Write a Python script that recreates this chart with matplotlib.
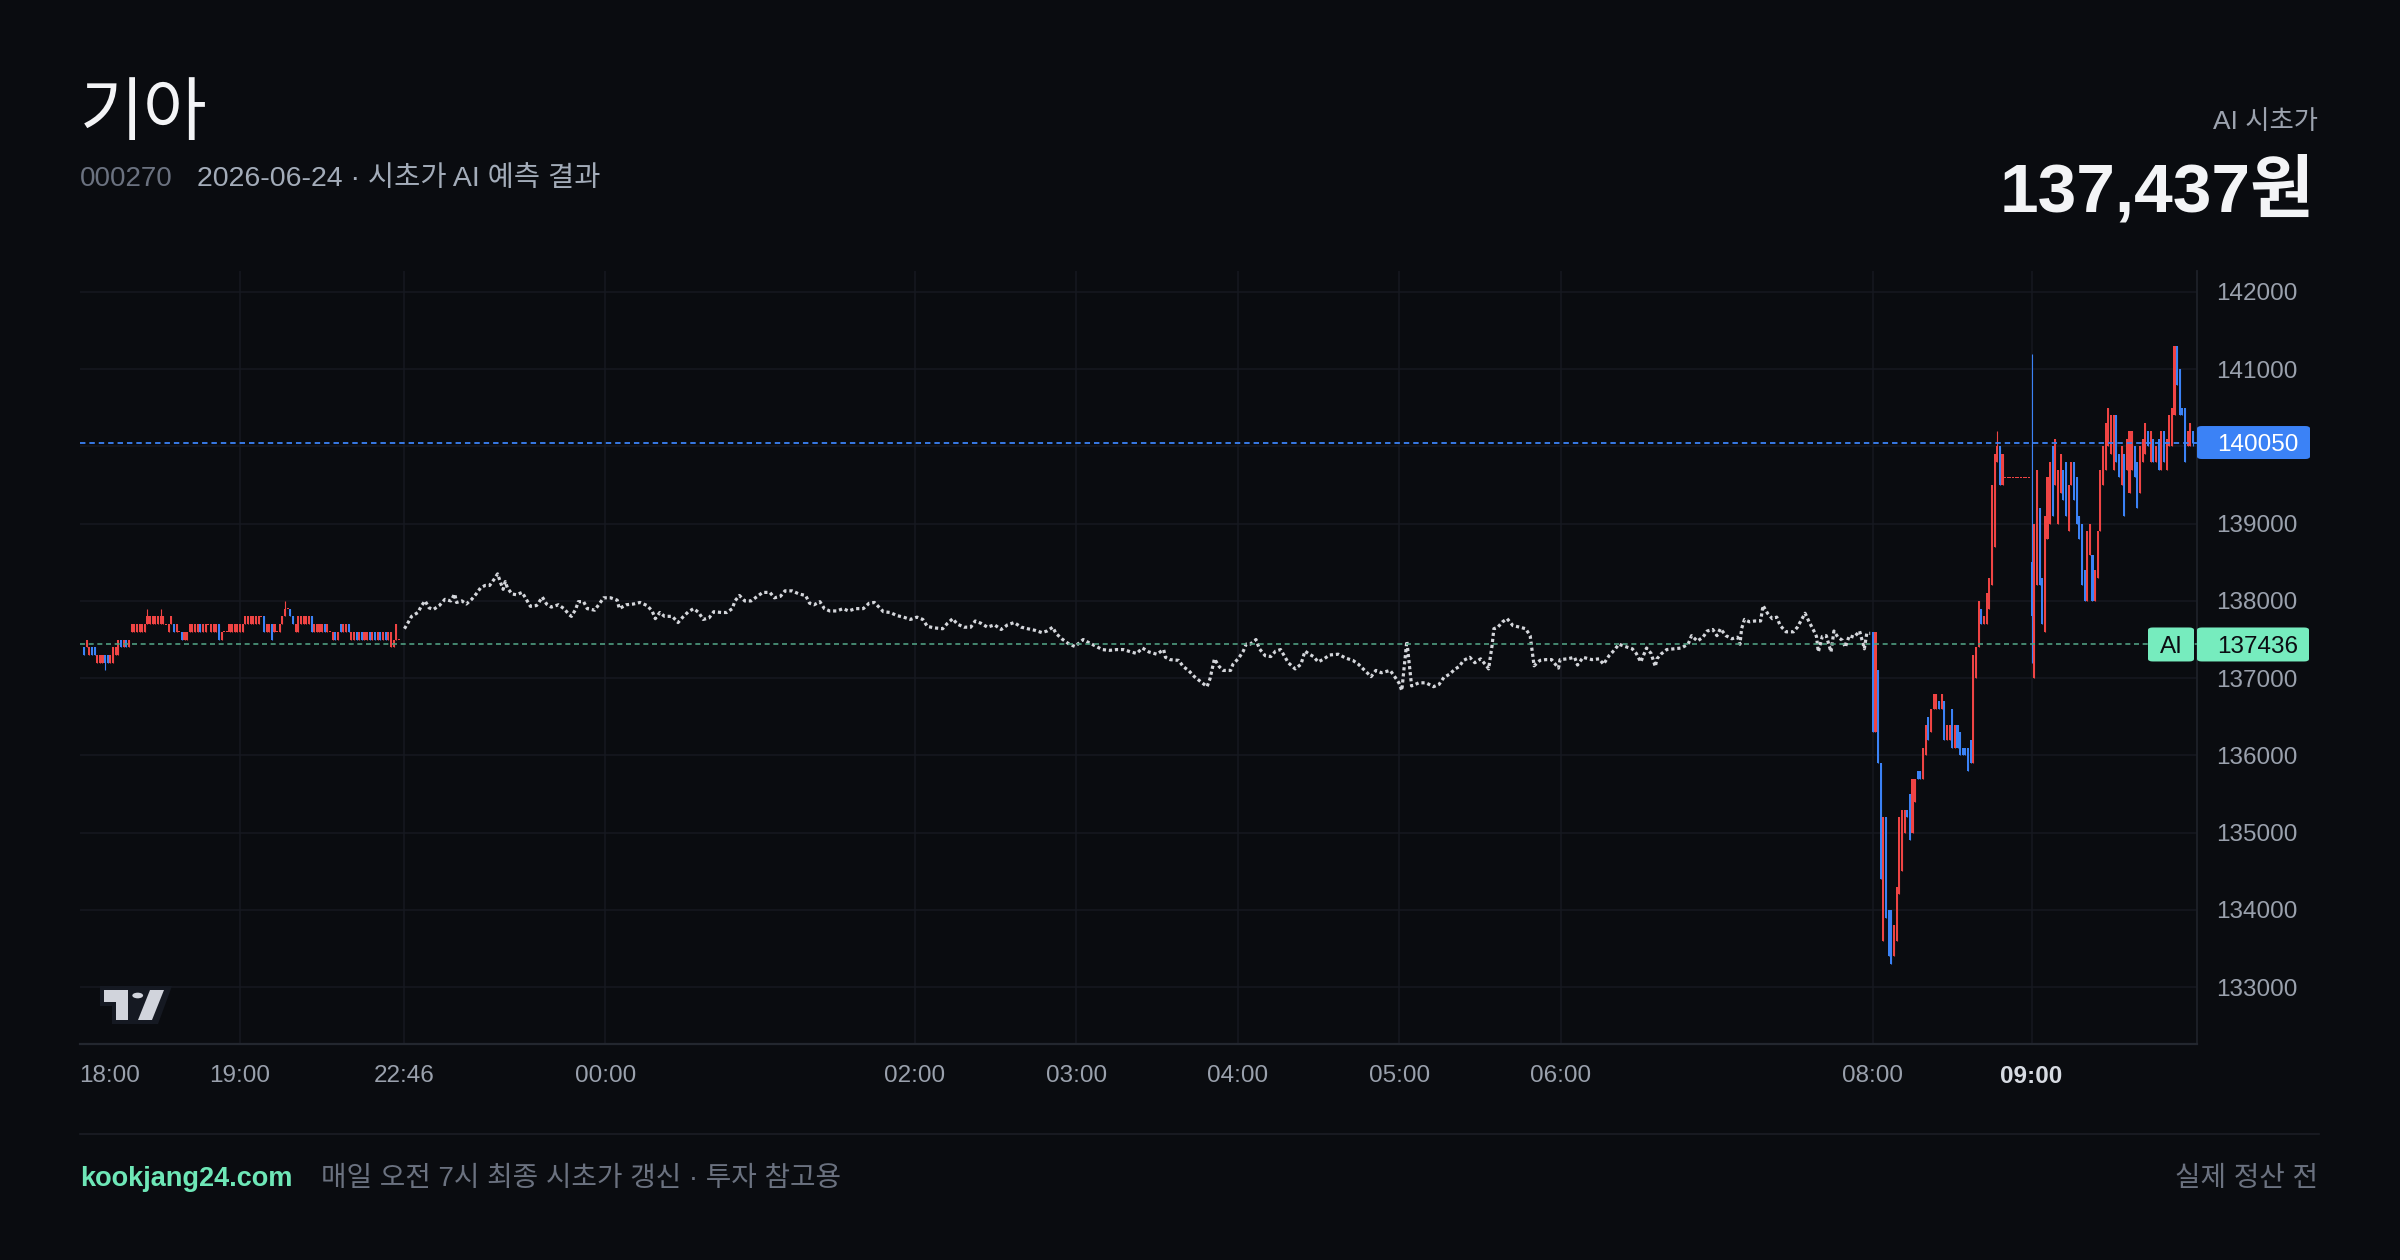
import numpy as np
import matplotlib
matplotlib.use("Agg")
import matplotlib.pyplot as plt
from matplotlib.patches import FancyBboxPatch, Polygon, Circle
from matplotlib.lines import Line2D
from matplotlib.transforms import ScaledTranslation

plt.rcParams['font.family'] = ['Liberation Sans', 'Noto Sans CJK KR', 'DejaVu Sans']

# ---------------- data ----------------
title = "기아"
code = "000270"
subtitle = "2026-06-24 · 시초가 AI 예측 결과"
ai_label = "AI 시초가"
ai_value_text = "137,437원"
footer_site = "kookjang24.com"
footer_note = "매일 오전 7시 최종 시초가 갱신 · 투자 참고용"
footer_right = "실제 정산 전"

price_ticks = [133000, 134000, 135000, 136000, 137000, 138000, 139000, 140000, 141000, 142000]
time_tick_idx = [0, 59, 121, 197, 314, 375, 436, 497, 558, 676, 736]
time_tick_labels = ["18:00", "19:00", "22:46", "00:00", "02:00", "03:00", "04:00", "05:00", "06:00", "08:00", "09:00"]

last_price = 140050
ai_price = 137436

# evening session 1-min candles (start at bar 0)
eve_open = [
    137400,137400,137300,137400,137400,137200,137200,137200,137300,137300,
    137200,137200,137300,137300,137500,137400,137500,137400,137600,137600,
    137600,137600,137600,137600,137700,137700,137700,137700,137700,137700,
    137700,137700,137600,137700,137700,137600,137600,137600,137500,137500,
    137600,137600,137600,137600,137700,137600,137600,137700,137600,137600,
    137600,137700,137500,137600,137600,137600,137600,137600,137600,137600,
    137600,137700,137700,137700,137700,137700,137700,137800,137800,137600,
    137600,137700,137600,137600,137600,137700,137800,137900,137900,137800,
    137600,137600,137700,137700,137700,137700,137800,137600,137600,137600,
    137600,137700,137600,137600,137500,137600,137500,137700,137600,137600,
    137700,137500,137500,137600,137500,137600,137500,137500,137600,137500,
    137600,137500,137600,137500,137600,137500,137400,137400,137500,137500,
]
eve_close = [
    137300,137500,137400,137300,137300,137300,137300,137300,137200,137200,
    137300,137400,137400,137500,137400,137500,137400,137500,137700,137700,
    137700,137700,137700,137700,137800,137800,137800,137800,137800,137800,
    137800,137700,137700,137800,137600,137700,137600,137500,137600,137600,
    137700,137700,137700,137700,137600,137700,137700,137700,137700,137700,
    137700,137500,137600,137600,137600,137700,137700,137700,137700,137700,
    137700,137800,137800,137800,137800,137800,137800,137800,137600,137700,
    137700,137500,137700,137600,137700,137800,137900,137900,137800,137700,
    137700,137800,137800,137800,137800,137800,137600,137700,137700,137700,
    137700,137600,137700,137600,137600,137500,137600,137600,137700,137700,
    137600,137600,137600,137500,137600,137500,137600,137600,137500,137600,
    137500,137600,137500,137600,137500,137600,137600,137500,137700,137500,
]
eve_high = [
    137400,137500,137400,137400,137400,137300,137300,137300,137300,137300,
    137300,137400,137400,137500,137500,137500,137500,137500,137700,137700,
    137700,137700,137700,137700,137900,137800,137800,137800,137800,137900,
    137800,137700,137700,137800,137700,137700,137600,137600,137600,137600,
    137700,137700,137700,137700,137700,137700,137700,137700,137700,137700,
    137700,137700,137600,137600,137600,137700,137700,137700,137700,137700,
    137700,137800,137800,137800,137800,137800,137800,137800,137800,137700,
    137700,137700,137700,137600,137700,137800,138000,137900,137900,137800,
    137700,137800,137800,137800,137800,137800,137800,137700,137700,137700,
    137700,137700,137700,137600,137600,137600,137600,137700,137700,137700,
    137700,137600,137600,137600,137600,137600,137600,137600,137600,137600,
    137600,137600,137600,137600,137600,137600,137600,137500,137700,137500,
]
eve_low = [
    137300,137400,137300,137300,137300,137200,137200,137200,137100,137200,
    137200,137200,137300,137300,137400,137400,137400,137400,137600,137600,
    137600,137600,137600,137600,137700,137700,137700,137700,137700,137700,
    137700,137700,137600,137700,137600,137600,137600,137500,137500,137500,
    137600,137600,137600,137600,137600,137600,137600,137700,137600,137600,
    137600,137500,137500,137600,137600,137600,137600,137600,137600,137600,
    137600,137700,137700,137700,137700,137700,137700,137800,137600,137600,
    137600,137500,137600,137600,137600,137700,137800,137900,137800,137700,
    137600,137600,137700,137700,137700,137700,137600,137600,137600,137600,
    137600,137600,137600,137600,137500,137500,137500,137600,137600,137600,
    137600,137500,137500,137500,137500,137500,137500,137500,137500,137500,
    137500,137500,137500,137500,137500,137500,137400,137400,137500,137500,
]

# overnight dotted series: (bar index, price)
night_points = [
    (121.1,137640),(122.5,137720),(123.8,137800),(126.2,137850),(127.6,137940),(128.9,138000),(130.4,137910),(132.1,137890),(134.3,137940),(136.4,138020),
    (138.6,138000),(140.1,138090),(140.8,137980),(142.8,138000),(144.5,137960),(146.5,138020),(148.2,138090),(149.9,138170),(151.6,138200),(153.3,138200),
    (155.0,138280),(156.3,138350),(157.5,138230),(158.4,138150),(159.2,138250),(160.0,138170),(161.7,138090),(163.4,138080),(165.6,138110),(167.3,138010),
    (168.7,137930),(171.0,137940),(171.9,137980),(173.2,138050),(174.8,137960),(176.6,137920),(179.3,137950),(181.4,137900),(183.4,137820),(184.2,137800),
    (185.8,137890),(186.8,137990),(188.8,137990),(190.2,137900),(193.0,137880),(194.7,137960),(196.4,138040),(199.0,138040),(201.5,138010),(202.3,137900),
    (204.9,137950),(207.7,137960),(210.1,137980),(212.8,137940),(214.7,137870),(215.9,137770),(217.6,137850),(219.4,137800),(222.3,137800),(224.5,137720),
    (226.3,137790),(228.4,137860),(230.4,137900),(232.3,137850),(234.0,137760),(236.2,137780),(238.0,137860),(240.9,137850),(242.9,137850),(245.0,137900),
    (246.0,138000),(247.7,138070),(249.7,138000),(252.1,138000),(254.1,138050),(256.5,138110),(259.2,138110),(260.9,138040),(263.2,138060),(264.9,138130),
    (267.6,138130),(270.2,138090),(272.7,138070),(274.2,137970),(275.9,137950),(278.1,137990),(279.8,137900),(281.8,137870),(284.4,137870),(286.9,137900),
    (288.9,137870),(291.6,137900),(294.5,137900),(296.7,137970),(298.7,137980),(300.1,137930),(302.1,137860),(304.7,137850),(307.2,137810),(309.7,137790),
    (312.3,137760),(314.8,137790),(317.0,137760),(318.7,137670),(321.6,137650),(324.5,137640),(326.3,137710),(328.3,137770),(330.0,137700),(332.6,137660),
    (335.1,137660),(336.8,137740),(339.0,137710),(341.4,137660),(344.1,137690),(346.6,137630),(349.0,137690),(351.5,137720),(354.2,137660),(356.6,137640),
    (359.3,137620),(362.0,137590),(363.9,137610),(366.1,137660),
    (367.3,137580),(369.5,137510),(372.3,137440),(374.5,137410),(377.6,137500),(379.7,137460),(382.6,137410),(384.8,137370),(387.6,137360),(390.2,137370),
    (392.8,137370),(395.6,137340),(397.8,137320),(400.0,137390),(402.4,137340),(405.4,137310),(408.0,137370),(408.7,137270),(410.4,137240),(413.7,137230),
    (415.4,137150),(417.4,137100),(419.6,137020),(421.8,136960),(424.4,136890),(425.5,136990),(427.2,137250),(429.0,137150),(430.5,137100),(433.3,137100),
    (434.2,137180),(436.4,137260),(438.1,137350),(439.2,137440),(440.7,137440),(442.9,137500),(444.2,137380),(446.4,137290),(448.5,137280),(450.3,137350),
    (452.2,137370),(455.1,137200),(457.7,137120),(459.9,137180),(461.4,137350),(463.1,137310),(464.6,137280),(466.4,137210),(468.6,137250),(470.7,137300),
    (474.0,137310),(476.8,137260),(479.5,137230),(481.6,137180),(483.4,137120),(486.4,137020),(488.2,137100),(490.3,137070),(493.6,137100),(495.1,137030),
    (496.9,136940),(498.0,136840),(499.9,137480),(501.7,136900),(504.5,136940),(507.1,136940),(510.0,136890),(512.1,136920),(513.9,137010),(516.0,137050),
    (518.2,137120),(519.7,137150),(521.3,137230),(523.7,137270),(525.6,137200),(527.8,137250),(530.0,137160),(530.8,137120),(532.1,137420),(532.8,137640),
    (534.3,137660),(536.1,137730),(537.8,137770),(540.0,137680),(542.6,137660),(544.8,137640),(546.5,137550),(548.0,137160),(550.2,137230),(552.4,137240),
    (554.6,137240),(557.2,137130),(557.8,137240),(560.5,137250),(563.3,137270),(564.4,137170),(566.5,137270),(569.8,137240),(572.6,137250),(574.2,137180),
    (576.3,137290),(578.5,137370),(580.0,137440),(582.4,137410),(585.1,137380),(586.6,137320),(588.3,137210),(590.5,137390),(592.2,137320),(593.8,137150),
    (594.4,137250),(595.9,137310),(598.1,137370),(600.9,137380),(603.6,137390),(606.2,137440),(607.5,137550),(609.7,137480),(611.8,137530),(613.4,137610),
    (615.5,137630),(617.1,137550),(618.4,137640),(620.5,137550),(622.7,137510),(624.9,137530),(625.8,137440),(626.4,137640),(627.5,137760),(629.3,137730),
    (631.4,137740),(633.6,137740),(634.5,137940),(636.2,137840),(638.0,137770),(639.7,137790),(641.0,137680),(643.2,137600),(646.0,137600),(647.5,137660),
    (649.3,137770),(650.4,137840),(651.9,137730),(653.6,137620),(654.7,137540),(655.4,137340),(656.9,137540),(658.4,137550),(660.2,137340),(661.3,137610),
    (662.8,137530),(664.5,137490),(665.6,137400),(667.1,137550),(668.9,137530),(671.0,137610),(672.8,137380),(673.7,137580),(675.0,137580),
]

# morning 1-min candles (start at bar 676)
morn_start = 676
morn_open = [
    137600,136300,137100,135900,133600,135200,134000,134000,133400,133600,
    134200,134500,135000,135300,135500,135000,135400,135800,135800,135700,
    136000,136500,136300,136600,136600,136700,136600,136700,136200,136200,
    136600,136100,136400,136300,136100,136100,136100,136200,135900,137000,
    137400,137900,137700,137700,137900,138200,138700,139800,140000,139500,
    139600,139600,139600,139600,139600,139600,139600,139600,139600,139600,
    138500,137000,138200,139200,138300,137600,138800,139000,140000,139500,
    139000,139400,139700,139800,138900,139500,139800,139600,139100,139000,
    138400,138000,138600,138600,138000,138300,138900,139500,139700,140000,
    139900,139700,140400,139900,139500,139900,139700,139400,139700,140000,
    139800,139400,139800,139900,140200,139800,140100,139800,140100,139700,
    140200,139700,140000,140000,140400,141300,141000,140500,140500,140000,
    140000,140200,
]
morn_close = [
    136300,137600,135900,134400,135200,133900,133400,133300,133800,134300,
    135200,135300,135300,135200,134900,135700,135700,135700,135700,136100,
    136400,136200,136600,136800,136800,136600,136800,136200,136400,136400,
    136100,136400,136100,136000,136000,136000,135800,135900,137300,137400,
    138000,137700,137800,138100,138300,139500,139900,140000,139500,139900,
    139600,139600,139600,139600,139600,139600,139600,139600,139600,139600,
    137800,139000,139700,138200,137700,139100,139600,139800,139100,140100,
    139700,139900,139300,139100,139500,139800,139300,139000,138800,138200,
    138000,138900,139000,138000,138400,138900,139700,140000,140300,140500,
    140400,140400,139800,139600,140000,139100,140100,140200,140200,139600,
    139200,140000,140100,140300,140000,140200,139800,140000,139700,140200,
    139800,140100,140400,140500,141300,140800,140400,140400,139800,140200,
    140300,140050,
]
morn_high = [
    137600,137600,137100,135900,135200,135200,134000,134000,133800,134300,
    135200,135300,135300,135300,135500,135700,135700,135800,135800,136100,
    136400,136500,136600,136800,136800,136700,136800,136700,136400,136400,
    136600,136400,136400,136300,136100,136100,136100,136200,137300,137400,
    138000,137900,137800,138100,138300,139500,139900,140200,140000,139900,
    139600,139600,139600,139600,139600,139600,139600,139600,139600,139600,
    141200,139000,139700,139200,138300,139100,139600,139800,140000,140100,
    139700,139900,139700,139800,139500,139800,139800,139600,139100,139000,
    138400,138900,139000,138600,138400,138900,139700,140000,140300,140500,
    140400,140400,140400,139900,140000,139900,140100,140200,140200,140000,
    139800,140000,140100,140300,140200,140200,140100,140000,140100,140200,
    140200,140100,140400,140500,141300,141300,141000,140500,140500,140200,
    140300,140200,
]
morn_low = [
    136300,136300,135900,134400,133600,133900,133400,133300,133400,133600,
    134200,134500,135000,135200,134900,135000,135400,135700,135700,135700,
    136000,136200,136300,136600,136600,136600,136600,136200,136200,136200,
    136100,136100,136100,136000,136000,136000,135800,135900,135900,137000,
    137400,137700,137700,137700,137900,138200,138700,139800,139500,139500,
    139600,139600,139600,139600,139600,139600,139600,139600,139600,139600,
    137200,137000,138200,138200,137700,137600,138800,139000,139100,139500,
    139000,139400,139300,139100,138900,139500,139300,139000,138800,138200,
    138000,138000,138600,138000,138000,138300,138900,139500,139700,140000,
    139900,139700,139800,139600,139500,139100,139700,139400,139700,139600,
    139200,139400,139800,139900,140000,139800,139800,139800,139700,139700,
    139800,139700,140000,140000,140400,140800,140400,140400,139800,140000,
    140000,140000,
]

# ---------------- style ----------------
BG = '#0a0c10'
GRID = '#161920'
RED = '#ef4444'
BLUE = '#3b82f6'
MINT = '#76ecbe'
DOT = '#d4d6db'
TICK = '#9aa1ad'
W, H = 2400, 1260

fig = plt.figure(figsize=(24, 12.6), dpi=100)
fig.patch.set_facecolor(BG)
ax = fig.add_axes([80 / W, 1 - 1044 / H, (2197 - 80) / W, (1044 - 271) / H])
ax.set_facecolor(BG)
ax.set_xlim(-1.5, 798.5)
ax.set_ylim(132265, 142270)

# grid
for t in time_tick_idx[1:]:
    ax.axvline(t, color=GRID, lw=1.1, zorder=0.5)
for p in price_ticks:
    ax.axhline(p, color=GRID, lw=1.1, zorder=0.5)


def candles(x0, o, h, l, c):
    o = np.asarray(o, float); h = np.asarray(h, float)
    l = np.asarray(l, float); c = np.asarray(c, float)
    x = x0 + np.arange(len(o))
    cols = np.where(c >= o, RED, BLUE)
    ax.vlines(x, l, h, colors=cols, lw=0.8, zorder=3)
    bottom = np.minimum(o, c)
    height = np.maximum(np.abs(c - o), 14)
    ax.bar(x, height, bottom=bottom - np.where(np.abs(c - o) < 14, 7, 0),
           width=0.78, color=cols, linewidth=0, zorder=3)


candles(0, eve_open, eve_high, eve_low, eve_close)
candles(morn_start, morn_open, morn_high, morn_low, morn_close)

nx = [p[0] for p in night_points]
ny = [p[1] for p in night_points]
ax.plot(nx, ny, color=DOT, lw=2.3, ls=(0, (1.0, 0.9)), zorder=3,
        dash_capstyle='butt')

# reference lines
ax.axhline(last_price, color=BLUE, lw=1.3, ls=(0, (3.0, 2.2)), zorder=4)
ax.axhline(ai_price, color='#4f9d80', lw=1.2, ls=(0, (3, 2.2)), zorder=4)

# axes styling
for s in ['top', 'left']:
    ax.spines[s].set_visible(False)
ax.spines['right'].set_color('#1e2229')
ax.spines['right'].set_linewidth(1.3)
ax.spines['bottom'].set_color('#23272f')
ax.spines['bottom'].set_linewidth(1.6)
ax.yaxis.tick_right()
ax.set_yticks(price_ticks)
ax.set_yticklabels([str(v) for v in price_ticks])
ax.tick_params(axis='y', length=0, pad=14, labelsize=17.5, labelcolor=TICK)
ax.set_xticks(time_tick_idx)
ax.set_xticklabels(time_tick_labels)
ax.tick_params(axis='x', length=0, pad=15, labelsize=17.5, labelcolor=TICK)
xt = ax.get_xticklabels()
xt[0].set_ha('left')
xt[0].set_transform(xt[0].get_transform() + ScaledTranslation(-0.05, 0, fig.dpi_scale_trans))
xt[-1].set_fontweight('bold')
xt[-1].set_color('#d7dbe2')

# value boxes on price axis
fig.canvas.draw()
def fy(p):
    return ax.transData.transform((0, p))[1] / (H)

def box(x0, x1, yc, hpx, color):
    r = FancyBboxPatch((x0 / W, yc - hpx / 2 / H), (x1 - x0) / W, hpx / H,
                       boxstyle="round,pad=0,rounding_size=0.002", transform=fig.transFigure,
                       facecolor=color, edgecolor='none', zorder=20)
    fig.patches.append(r)

yb = fy(last_price)
box(2197, 2310, yb, 33, BLUE)
fig.text(2217 / W, yb, f"{last_price}", color='white', fontsize=17.5, va='center_baseline', ha='left', zorder=21)
ya = fy(ai_price)
box(2148, 2194, ya, 34, MINT)
box(2197, 2309, ya, 34, MINT)
fig.text(2171 / W, ya, "AI", color='#0b0d12', fontsize=17.5, va='center_baseline', ha='center', zorder=21)
fig.text(2217 / W, ya, f"{ai_price}", color='#0b0d12', fontsize=17.5, va='center_baseline', ha='left', zorder=21)

# TradingView-like logo
def P(x, y):
    return (x / W, 1 - y / H)
bgc = '#151922'
fig.patches.append(Polygon([P(100, 986), P(172, 986), P(158, 1024), P(112, 1024), P(112, 1006), P(100, 1006)],
                           closed=True, transform=fig.transFigure, facecolor=bgc, edgecolor='none', zorder=5))
lg = '#d1d4dc'
fig.patches.append(Polygon([P(104, 990), P(128, 990), P(128, 1020), P(116, 1020), P(116, 1002), P(104, 1002)],
                           closed=True, transform=fig.transFigure, facecolor=lg, edgecolor='none', zorder=6))
fig.patches.append(Polygon([P(150, 990), P(164, 990), P(152, 1020), P(138, 1020)],
                           closed=True, transform=fig.transFigure, facecolor=lg, edgecolor='none', zorder=6))
fig.patches.append(Circle(P(137.7, 995.5), 5.4 / W, transform=fig.transFigure, facecolor=lg,
                          edgecolor='none', zorder=6))

# header
fig.text(80 / W, 1 - 134 / H, title, fontsize=50, color='#f3f4f6', ha='left', va='baseline',
         family=['Noto Sans CJK KR'])
fig.text(80 / W, 1 - 186 / H, code, fontsize=20, color='#6b7280', ha='left', va='baseline')
fig.text(197 / W, 1 - 186 / H, subtitle, fontsize=20.5, color='#a3acb9', ha='left', va='baseline')
fig.text(2318 / W, 1 - 129 / H, ai_label, fontsize=19, color='#9ca3af', ha='right', va='baseline')
fig.text(2314 / W, 1 - 211 / H, ai_value_text, fontsize=50, fontweight='bold', color='#f3f4f6',
         ha='right', va='baseline')

# footer
fig.add_artist(Line2D([80 / W, 2319 / W], [1 - 1134 / H, 1 - 1134 / H], transform=fig.transFigure,
                      color='#1b1e25', lw=1.2))
fig.text(80 / W, 1 - 1186 / H, footer_site, fontsize=19.5, fontweight='bold', color='#6ee7b7',
         ha='left', va='baseline')
fig.text(321 / W, 1 - 1186 / H, footer_note, fontsize=20, color='#6b7280', ha='left', va='baseline')
fig.text(2318 / W, 1 - 1186 / H, footer_right, fontsize=20, color='#6b7280', ha='right', va='baseline')

fig.savefig('out.png', dpi=100, facecolor=BG)
